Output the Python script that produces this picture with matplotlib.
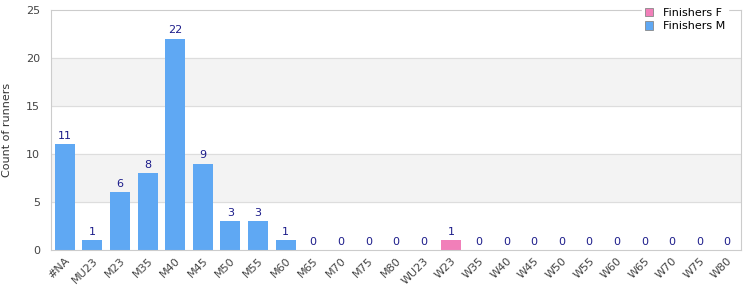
import matplotlib
matplotlib.use("Agg")
import matplotlib.pyplot as plt
import numpy as np

# categories and counts
categories = ["#NA", "MU23", "M23", "M35", "M40", "M45", "M50", "M55", "M60", "M65",
              "M70", "M75", "M80", "WU23", "W23", "W35", "W40", "W45", "W50", "W55",
              "W60", "W65", "W70", "W75", "W80"]
finishers_m = [11, 1, 6, 8, 22, 9, 3, 3, 1, 0, 0, 0, 0, 0, 0, 0, 0, 0, 0, 0, 0, 0, 0, 0, 0]
finishers_f = [0, 0, 0, 0, 0, 0, 0, 0, 0, 0, 0, 0, 0, 0, 1, 0, 0, 0, 0, 0, 0, 0, 0, 0, 0]

plt.rcParams['font.family'] = ['DejaVu Sans']

fig = plt.figure(figsize=(7.5, 3), dpi=100)
ax = fig.add_axes([0.068, 0.1667, 0.920, 0.800])

x = np.arange(len(categories))
blue = "#5fa8f3"
pink = "#f17fb9"

#alternating bands
for lo in (5, 15):
    ax.axhspan(lo, lo + 5, color="#f3f3f3", zorder=0)
for yv in (5, 10, 15, 20):
    ax.axhline(yv, color="#dddddd", lw=0.8, zorder=1)

ax.bar(x, finishers_f, width=0.72, color=pink, label="Finishers F", zorder=2)
ax.bar(x, finishers_m, width=0.72, bottom=finishers_f, color=blue, label="Finishers M", zorder=2)

totals = [m + f for m, f in zip(finishers_m, finishers_f)]
for xi, t in zip(x, totals):
    ax.text(xi, t + 0.35, str(t), ha="center", va="bottom", fontsize=8, color="#1c1c8a", zorder=3)

ax.set_xlim(-0.5, len(categories) - 0.5)
ax.set_ylim(0, 25)
ax.set_yticks([0, 5, 10, 15, 20, 25])
ax.set_xticks(x)
ax.set_xticklabels(categories, rotation=45, ha="right", rotation_mode="anchor", fontsize=8, color="#444444")
ax.tick_params(axis="y", labelsize=8, colors="#444444", length=0, pad=8)
ax.tick_params(axis="x", length=0, pad=4)
ax.set_ylabel("Count of runners", fontsize=8, color="#333333", labelpad=10)

for s in ax.spines.values():
    s.set_color("#cccccc")
    s.set_linewidth(0.8)

leg = ax.legend(loc="upper right", bbox_to_anchor=(0.978, 1.0), bbox_transform=fig.transFigure,
                fontsize=8, frameon=True, fancybox=False, framealpha=1, edgecolor="white",
                handlelength=0.8, handleheight=0.8, handletextpad=0.9, borderpad=0.2, labelspacing=0.3)
for h in leg.legend_handles:
    h.set_edgecolor("#888888")
    h.set_linewidth(0.6)
leg.set_zorder(5)

fig.savefig("out.png", dpi=100)
